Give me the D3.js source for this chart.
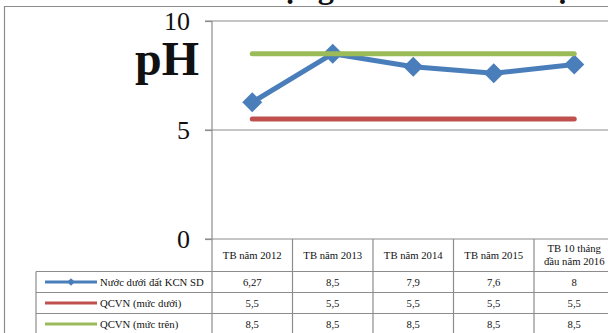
<!DOCTYPE html>
<html>
<head>
<meta charset="utf-8">
<script src="https://cdn.jsdelivr.net/npm/d3@7"></script>
<style>
body { margin: 0; background: #fff; }
svg { display: block; }
text { font-family: "Liberation Serif", "Times New Roman", serif; fill: #111; }
</style>
</head>
<body>
<div class="canvas"></div>
<script>
// data
var categories = ["TB năm 2012", "TB năm 2013", "TB năm 2014", "TB năm 2015", "TB 10 tháng\nđầu năm 2016"];
var seriesNames = ["Nước dưới đất KCN SD", "QCVN (mức dưới)", "QCVN (mức trên)"];
var groundwater = [6.27, 8.5, 7.9, 7.6, 8];
var qcvnLow = [5.5, 5.5, 5.5, 5.5, 5.5];
var qcvnHigh = [8.5, 8.5, 8.5, 8.5, 8.5];
var yTicks = [0, 5, 10];
var title = "Diễn biến chất lượng nước dưới đất tại KCN";

var width = 608,
    height = 333;

var svg = d3.select(".canvas").append("svg")
    .attr("width", width)
    .attr("height", height);

var grey = "#8c8c8c";
var colors = ["#4a7ebb", "#c0504d", "#9bbb59"];
var series = [groundwater, qcvnLow, qcvnHigh];

var x = d3.scaleBand().domain(categories).range([212, 614.5]);
var y = d3.scaleLinear().domain([0, 10]).range([239, 21]);
var cx = function(i) { return x(categories[i]) + x.bandwidth() / 2; };

var tableTop = y(0),
    headerBottom = 271.5,
    rowH = 21,
    legendLeft = 36;

// outer chart border (cropped on right and bottom)
svg.append("path")
    .attr("d", "M4.5," + (height + 5) + "V6.5H" + (width + 5))
    .attr("fill", "none")
    .attr("stroke", grey)
    .attr("stroke-width", 1.2);

// title, mostly above the visible area
var t = svg.append("text")
    .attr("y", -2)
    .attr("font-weight", "bold")
    .attr("font-size", 30)
    .text(title);
var i1 = title.indexOf("ợ"), i2 = title.indexOf("ạ");
var node = t.node();
var p1 = node.getStartPositionOfChar(i1).x + node.getSubStringLength(i1, 1) / 2;
var p2 = node.getStartPositionOfChar(i2).x + node.getSubStringLength(i2, 1) / 2;
var fs = 30 * (563 - 291) / (p2 - p1);
t.attr("font-size", fs).attr("x", 291 - p1 * fs / 30);

// gridlines
svg.append("g").selectAll("line")
    .data(yTicks)
    .enter().append("line")
    .attr("x1", 205)
    .attr("x2", width + 10)
    .attr("y1", function(d) { return y(d); })
    .attr("y2", function(d) { return y(d); })
    .attr("stroke", grey)
    .attr("stroke-width", 1.2);

// y axis
var axis = svg.append("g")
    .attr("transform", "translate(212,0)")
    .call(d3.axisLeft(y).tickValues(yTicks).tickSize(7).tickPadding(15));
axis.select(".domain").remove();
axis.selectAll(".tick line").attr("stroke", grey).attr("stroke-width", 1.2);
axis.selectAll(".tick text")
    .attr("font-size", 26)
    .attr("font-family", "Liberation Serif")
    .attr("fill", "#111");
svg.append("line")
    .attr("x1", 212).attr("x2", 212)
    .attr("y1", y(10)).attr("y2", height + 5)
    .attr("stroke", grey).attr("stroke-width", 1.2);

svg.append("text")
    .attr("x", 135)
    .attr("y", 75)
    .attr("font-size", 48)
    .attr("font-weight", "bold")
    .text("pH");

// series lines
var line = d3.line()
    .x(function(d, i) { return cx(i); })
    .y(function(d) { return y(d); });

series.forEach(function(s, k) {
    svg.append("path")
        .datum(s)
        .attr("d", line)
        .attr("fill", "none")
        .attr("stroke", colors[k])
        .attr("stroke-width", 5)
        .attr("stroke-linecap", "round")
        .attr("stroke-linejoin", "round");
    if (k == 0) {
        svg.append("g").selectAll("path")
            .data(s)
            .enter().append("path")
            .attr("d", d3.symbol(d3.symbolSquare, 200))
            .attr("transform", function(d, i) { return "translate(" + cx(i) + "," + y(d) + ") rotate(45)"; })
            .attr("fill", colors[0]);
    }
});

// data table
var tbl = svg.append("g");
var bounds = categories.map(function(c) { return x(c); }).concat([x.range()[1]]);
tbl.selectAll(".vline")
    .data(bounds.slice(1))
    .enter().append("line")
    .attr("x1", function(d) { return d; })
    .attr("x2", function(d) { return d; })
    .attr("y1", tableTop)
    .attr("y2", height + 5)
    .attr("stroke", grey)
    .attr("stroke-width", 1.2);
tbl.append("line")
    .attr("x1", legendLeft).attr("x2", legendLeft)
    .attr("y1", headerBottom).attr("y2", height + 5)
    .attr("stroke", grey).attr("stroke-width", 1.2);
[0, 1, 2].forEach(function(r) {
    tbl.append("line")
        .attr("x1", legendLeft).attr("x2", width + 10)
        .attr("y1", headerBottom + r * rowH).attr("y2", headerBottom + r * rowH)
        .attr("stroke", grey).attr("stroke-width", 1.2);
});

// header labels
categories.forEach(function(c, i) {
    var lines = c.split("\n");
    var mid = (tableTop + headerBottom) / 2;
    var txt = tbl.append("text")
        .attr("text-anchor", "middle")
        .attr("font-size", 10.7);
    lines.forEach(function(l, j) {
        txt.append("tspan")
            .attr("x", cx(i))
            .attr("y", mid + (j - (lines.length - 1) / 2) * 13)
            .attr("dy", "0.35em")
            .text(l);
    });
});

// rows
var fmt = function(v) { return String(v).replace(".", ","); };
series.forEach(function(s, k) {
    var rowMid = headerBottom + k * rowH + rowH / 2;
    tbl.append("line")
        .attr("x1", 45).attr("x2", 97)
        .attr("y1", rowMid).attr("y2", rowMid)
        .attr("stroke", colors[k])
        .attr("stroke-width", 3);
    if (k == 0) {
        tbl.append("path")
            .attr("d", d3.symbol(d3.symbolSquare, 30))
            .attr("transform", "translate(71," + rowMid + ") rotate(45)")
            .attr("fill", colors[0]);
    }
    tbl.append("text")
        .attr("x", 100)
        .attr("y", rowMid)
        .attr("dy", "0.35em")
        .attr("font-size", 10.7)
        .text(seriesNames[k]);
    tbl.selectAll(".v" + k)
        .data(s)
        .enter().append("text")
        .attr("x", function(d, i) { return cx(i); })
        .attr("y", rowMid)
        .attr("dy", "0.35em")
        .attr("text-anchor", "middle")
        .attr("font-size", 10.7)
        .text(fmt);
});
</script>
</body>
</html>
